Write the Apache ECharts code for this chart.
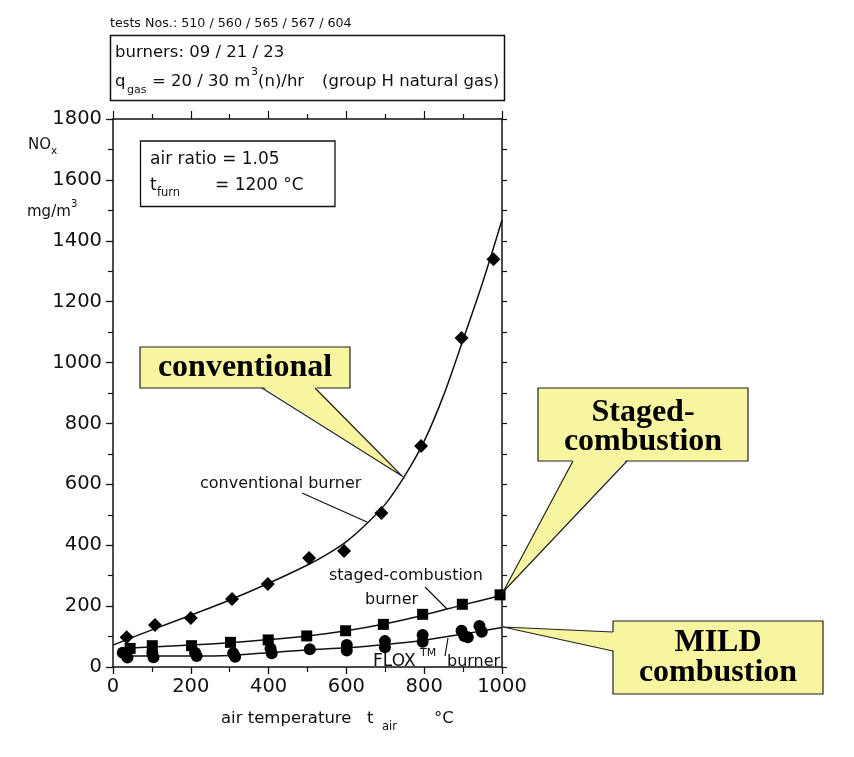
<!DOCTYPE html>
<html><head><meta charset="utf-8">
<script src="https://cdn.jsdelivr.net/npm/echarts/dist/echarts.min.js"></script>
<style>html,body{margin:0;padding:0;background:#fff}#c{width:854px;height:757px}</style>
</head><body><div id="c"></div>
<script>
// ---- data ----
const xTickLabels = [0, 200, 400, 600, 800, 1000];
const yTickLabels = [0, 200, 400, 600, 800, 1000, 1200, 1400, 1600, 1800];

// conventional burner (diamonds) and fitted curve
const convX = [35, 108, 200, 306, 398, 504, 594, 690, 792, 896, 978];
const convY = [98, 138, 161, 223, 273, 358, 381, 506, 726, 1081, 1339];
const convFitX = [0, 100, 200, 300, 400, 500, 550, 600, 650, 700, 750, 800, 850, 900, 950, 1000];
const convFitY = [72, 122, 170, 220, 275, 335, 370, 412, 468, 535, 628, 742, 893, 1075, 1262, 1468];

// staged-combustion burner (squares) and fitted curve
const stagedX = [44, 101, 202, 302, 399, 498, 598, 695, 796, 898, 995];
const stagedY = [61, 70, 70, 81, 89, 102, 119, 140, 173, 206, 237];
const stagedFitX = [30, 100, 200, 300, 400, 500, 600, 700, 800, 900, 1000];
const stagedFitY = [61, 66, 72, 80, 90, 102, 119, 142, 171, 204, 236];

// FLOX burner (circles) and fitted curve
const floxX = [25, 37, 101, 104, 211, 215, 309, 314, 405, 408, 506, 601, 601, 699, 699, 796, 796, 896, 903, 912, 942, 948];
const floxY = [47, 31, 47, 32, 47, 36, 45, 34, 61, 45, 58, 72, 54, 85, 65, 105, 83, 119, 102, 98, 135, 116];
const floxFitX = [30, 100, 200, 300, 400, 500, 600, 700, 800, 900, 1000];
const floxFitY = [36, 36, 36, 38, 47, 56, 63, 74, 88, 108, 130];

const zip = (a, b) => a.map((v, i) => [v, b[i]]);

const SANS = '"DejaVu Sans", sans-serif';
const SERIF = '"Liberation Serif", "DejaVu Serif", serif';
const INK = '#111';
const YEL = '#f7f59f';

function T(x, y, text, size) {
  return {
    type: 'text', x: x, y: y, z: 20,
    style: { text: text, fill: INK, font: size + 'px ' + SANS, textAlign: 'left', textVerticalAlign: 'middle' }
  };
}
function L(x1, y1, x2, y2, w) {
  return { type: 'line', z: 20, shape: { x1: x1, y1: y1, x2: x2, y2: y2 }, style: { stroke: INK, lineWidth: w || 1.2 } };
}
function callout(box, base, tip, lines) {
  const els = [];
  els.push({ type: 'rect', z: 30, shape: { x: box[0], y: box[1], width: box[2] - box[0], height: box[3] - box[1] }, style: { fill: YEL, stroke: '#222', lineWidth: 1.2 } });
  els.push({ type: 'polygon', z: 31, shape: { points: [base.inA, base.inB, tip] }, style: { fill: YEL, stroke: null } });
  els.push({ type: 'polyline', z: 32, shape: { points: [base.a, tip, base.b] }, style: { stroke: '#222', lineWidth: 1.2, fill: null } });
  lines.forEach(l => els.push({ type: 'text', z: 33, x: l[0], y: l[1], style: { text: l[2], fill: '#000', font: 'bold 32px ' + SERIF, textAlign: 'center', textVerticalAlign: 'middle' } }));
  return els;
}

const chart = echarts.init(document.getElementById('c'), null, { renderer: 'canvas' });

const axisLineStyle = { color: INK, width: 1.5 };
const labelStyle = { color: INK, fontSize: 19.5, fontFamily: SANS };
const markStyle = { color: '#000', opacity: 1 };

const graphics = [
  // header
  T(110, 24, 'tests Nos.: 510 / 560 / 565 / 567 / 604', 12.7),
  { type: 'rect', z: 20, shape: { x: 110.5, y: 35.5, width: 394, height: 65 }, style: { fill: null, stroke: INK, lineWidth: 1.5 } },
  T(115, 53, 'burners: 09 / 21 / 23', 16.5),
  T(115, 82, 'q', 16.5),
  T(127, 90, 'gas', 11),
  T(152, 82, '= 20 / 30 m', 16.5),
  T(251, 72, '3', 11),
  T(258, 82, '(n)/hr', 16.5),
  T(322, 82, '(group H natural gas)', 16.5),
  // inner info box
  { type: 'rect', z: 20, shape: { x: 140.5, y: 141, width: 194.5, height: 65.5 }, style: { fill: '#fff', stroke: INK, lineWidth: 1.3 } },
  T(150, 160, 'air ratio = 1.05', 17),
  T(150, 186, 't', 17),
  T(157, 193, 'furn', 11.5),
  T(215, 186, '= 1200 °C', 17),
  // y axis name
  T(28, 145, 'NO', 15),
  T(51, 151, 'x', 10.5),
  T(27, 212, 'mg/m', 15),
  T(71, 204, '3', 10),
  // x axis name
  T(221, 719, 'air temperature', 16.5),
  T(367, 719, 't', 16.5),
  T(382, 727, 'air', 11.5),
  T(434, 719, '°C', 16.5),
  // curve labels with leader lines
  T(200, 484, 'conventional burner', 16),
  L(302, 493, 367, 522),
  T(329, 576, 'staged-combustion', 16),
  T(365, 600, 'burner', 16),
  L(425, 587, 447, 609),
  T(373, 662, 'FLOX', 17),
  T(420, 653, 'TM', 11),
  T(447, 662, 'burner', 16),
  L(448, 638, 445, 656)
].concat(
  callout([140, 347, 350, 388], { a: [262, 388], b: [315, 388], inA: [262, 386], inB: [315, 386] }, [402, 476], [[245, 368, 'conventional']]),
  callout([538, 388, 748, 461], { a: [573, 461], b: [627, 461], inA: [573, 459], inB: [627, 459] }, [503, 592], [[643, 413, 'Staged-'], [643, 442, 'combustion']]),
  callout([613, 621, 823, 694], { a: [613, 632], b: [613, 651], inA: [615, 632], inB: [615, 651] }, [503, 627], [[718, 643, 'MILD'], [718, 673, 'combustion']])
);

chart.setOption({
  animation: false,
  backgroundColor: '#fff',
  grid: { left: 113, right: 352, top: 119, bottom: 90, containLabel: false, outerBoundsMode: 'none' },
  xAxis: [
    { type: 'value', position: 'bottom', min: 0, max: 1000, interval: 200,
      axisLine: { show: true, onZero: false, lineStyle: axisLineStyle },
      axisTick: { show: true, inside: false, length: 7, lineStyle: { color: INK, width: 1.3 } },
      minorTick: { show: true, splitNumber: 2, length: 5, lineStyle: { color: INK, width: 1.2 } },
      axisLabel: Object.assign({ margin: 10, formatter: v => (xTickLabels.indexOf(v) >= 0 ? String(v) : '') }, labelStyle),
      splitLine: { show: false } },
    { type: 'value', position: 'top', min: 0, max: 1000, interval: 200,
      axisLine: { show: true, onZero: false, lineStyle: axisLineStyle },
      axisTick: { show: true, inside: false, length: 8, lineStyle: { color: INK, width: 1.2 } },
      minorTick: { show: true, splitNumber: 2, length: 5, lineStyle: { color: INK, width: 1.2 } },
      axisLabel: { show: false }, splitLine: { show: false } }
  ],
  yAxis: [
    { type: 'value', position: 'left', min: 0, max: 1800, interval: 200,
      axisLine: { show: true, onZero: false, lineStyle: axisLineStyle },
      axisTick: { show: true, inside: false, length: 7, lineStyle: { color: INK, width: 1.3 } },
      minorTick: { show: true, splitNumber: 2, length: 5, lineStyle: { color: INK, width: 1.2 } },
      axisLabel: Object.assign({ margin: 11, formatter: v => (yTickLabels.indexOf(v) >= 0 ? String(v) : '') }, labelStyle),
      splitLine: { show: false } },
    { type: 'value', position: 'right', min: 0, max: 1800, interval: 100,
      axisLine: { show: true, onZero: false, lineStyle: axisLineStyle },
      axisTick: { show: true, inside: false, length: 5, lineStyle: { color: INK, width: 1.2 } },
      axisLabel: { show: false }, splitLine: { show: false } }
  ],
  series: [
    { type: 'line', name: 'conv fit', data: zip(convFitX, convFitY), smooth: 0.3, showSymbol: false, symbol: 'none',
      lineStyle: { color: INK, width: 1.5 }, z: 3 },
    { type: 'scatter', name: 'conventional', data: zip(convX, convY), symbol: 'diamond', symbolSize: 14,
      itemStyle: markStyle, z: 4 },
    { type: 'line', name: 'staged fit', data: zip(stagedFitX, stagedFitY), smooth: 0.3, showSymbol: false, symbol: 'none',
      lineStyle: { color: INK, width: 1.5 }, z: 3 },
    { type: 'scatter', name: 'staged', data: zip(stagedX, stagedY), symbol: 'rect', symbolSize: 11,
      itemStyle: markStyle, z: 4 },
    { type: 'line', name: 'flox fit', data: zip(floxFitX, floxFitY), smooth: 0.3, showSymbol: false, symbol: 'none',
      lineStyle: { color: INK, width: 1.5 }, z: 3 },
    { type: 'scatter', name: 'flox', data: zip(floxX, floxY), symbol: 'circle', symbolSize: 12,
      itemStyle: markStyle, z: 4 }
  ],
  graphic: { elements: graphics }
});
</script>
</body></html>
